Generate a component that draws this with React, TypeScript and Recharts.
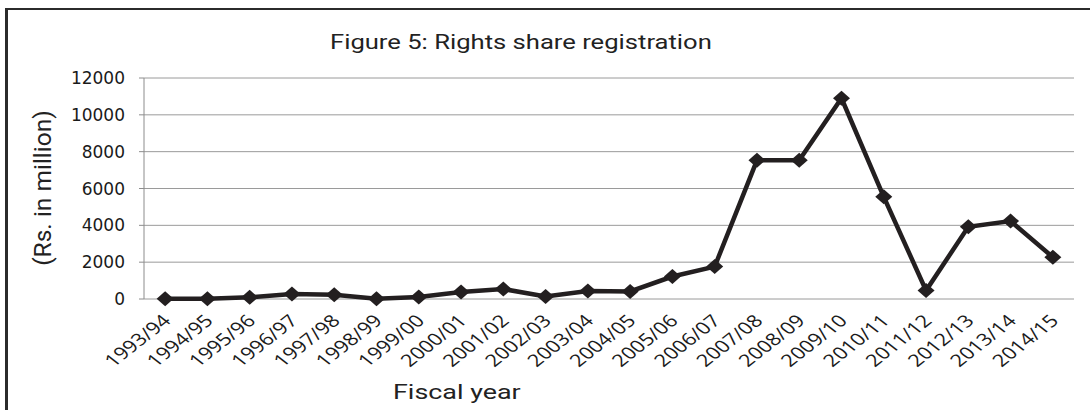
import { type FC } from 'react'
import { LineChart, Line, XAxis, YAxis, CartesianGrid } from 'recharts'

const years = [
  '1993/94', '1994/95', '1995/96', '1996/97', '1997/98', '1998/99', '1999/00', '2000/01',
  '2001/02', '2002/03', '2003/04', '2004/05', '2005/06', '2006/07', '2007/08', '2008/09',
  '2009/10', '2010/11', '2011/12', '2012/13', '2013/14', '2014/15',
]
const rightsShare = [
  20, 20, 90, 270, 230, 10, 110, 380, 540, 140, 430, 410, 1220, 1760, 7530, 7530, 10900, 5550,
  460, 3920, 4230, 2270,
]
const yTicks = [0, 2000, 4000, 6000, 8000, 10000, 12000]

const data = years.map((year, i) => ({ i, year, value: rightsShare[i] }))
const labelTicks = years.map((_, i) => i)
const boundaryTicks = [...years.map((_, i) => i - 0.5), years.length - 0.5]

// source picture is stretched sideways, so text gets a horizontal scale too
const STRETCH = 1.28

const DiamondDot: FC<any> = ({ cx, cy }) => {
  if (cx == null || cy == null) return null
  const rx = 8.5
  const ry = 7.5
  return <polygon points={`${cx},${cy - ry} ${cx + rx},${cy} ${cx},${cy + ry} ${cx - rx},${cy}`} fill="#231f20" />
}

const YearTick: FC<any> = ({ x, y, payload }) => {
  const tx = x + 7
  const ty = y + 15
  return (
    <text
      transform={`translate(${tx}, ${ty}) scale(${STRETCH}, 1) rotate(-45)`}
      textAnchor="end"
      fontFamily="'Open Sans', sans-serif"
      fontSize={17}
      fontWeight={500}
      fill="#1a1a1a"
    >
      {years[payload.value]}
    </text>
  )
}

const textStyle = { fontFamily: 'Roboto, sans-serif', color: '#222', whiteSpace: 'nowrap' as const }

export default function App() {
  return (
    <div style={{ position: 'absolute', left: 0, top: 0, width: 1090, height: 410, background: '#fff', overflow: 'hidden' }}>
      <div
        style={{
          position: 'absolute',
          left: 5,
          top: 8,
          width: 1100,
          height: 420,
          borderTop: '2px solid #2b2b2b',
          borderLeft: '3px solid #2b2b2b',
        }}
      />
      <div
        style={{
          ...textStyle,
          position: 'absolute',
          left: 330,
          top: 30,
          fontSize: 20,
          transform: `scaleX(${STRETCH})`,
          transformOrigin: 'left top',
        }}
      >
        Figure 5: Rights share registration
      </div>
      <div
        style={{
          ...textStyle,
          position: 'absolute',
          left: 42,
          top: 188,
          fontSize: 24.5,
          transform: 'translate(-50%, -50%) rotate(-90deg)',
        }}
      >
        (Rs. in million)
      </div>
      <div
        style={{
          ...textStyle,
          position: 'absolute',
          left: 393,
          top: 380,
          fontSize: 21,
          transform: `scaleX(${STRETCH})`,
          transformOrigin: 'left top',
        }}
      >
        Fiscal year
      </div>
      <LineChart width={1090} height={410} data={data} margin={{ top: 78, right: 16, bottom: 0, left: 0 }}>
        <CartesianGrid vertical={false} stroke="#9a9a9a" strokeWidth={1} />
        <XAxis
          xAxisId="bounds"
          dataKey="i"
          type="number"
          domain={[-0.5, years.length - 0.5]}
          ticks={boundaryTicks}
          interval={0}
          height={0}
          stroke="#8c8c8c"
          tickSize={5}
          tickFormatter={() => ''}
        />
        <XAxis
          xAxisId="labels"
          dataKey="i"
          type="number"
          domain={[-0.5, years.length - 0.5]}
          ticks={labelTicks}
          interval={0}
          height={111}
          axisLine={false}
          tickLine={false}
          tick={<YearTick />}
        />
        <YAxis
          domain={[0, 12000]}
          ticks={yTicks}
          width={144}
          stroke="#8c8c8c"
          tickSize={5}
          tickMargin={14}
          tick={{ fill: '#1a1a1a', fontSize: 17, fontFamily: "'DejaVu Sans', sans-serif" }}
        />
        <Line
          xAxisId="labels"
          dataKey="value"
          stroke="#231f20"
          strokeWidth={4.5}
          dot={<DiamondDot />}
          activeDot={false}
          isAnimationActive={false}
        />
      </LineChart>
    </div>
  )
}
